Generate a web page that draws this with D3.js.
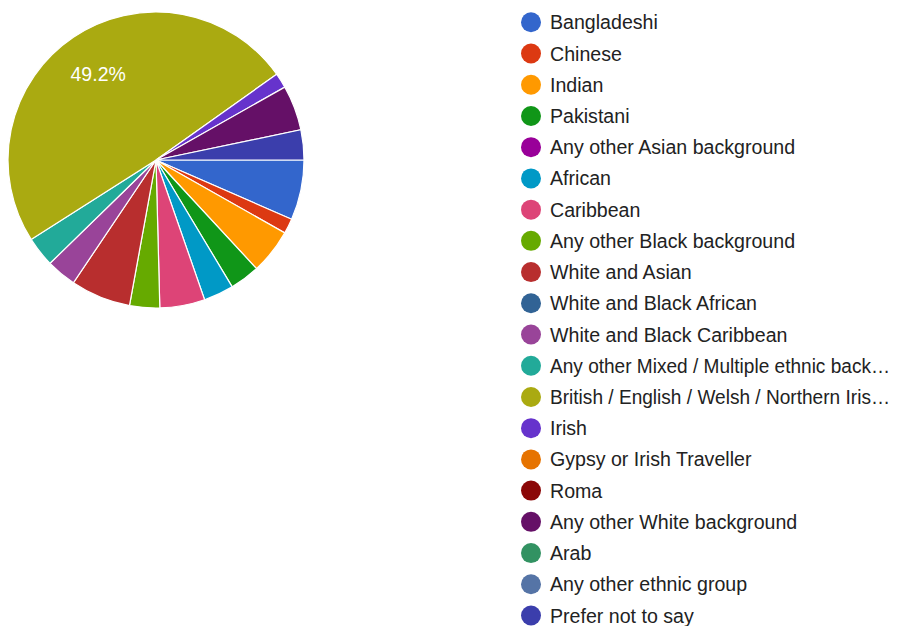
<!DOCTYPE html>
<html><head><meta charset="utf-8">
<script src="https://cdn.jsdelivr.net/npm/d3@7/dist/d3.min.js"></script>
<style>body{margin:0;background:#fff}svg{display:block}</style>
</head><body>
<svg id="c" width="897" height="626"></svg>
<script>
const categories = ["Bangladeshi","Chinese","Indian","Pakistani","Any other Asian background","African","Caribbean","Any other Black background","White and Asian","White and Black African","White and Black Caribbean","Any other Mixed / Multiple ethnic back…","British / English / Welsh / Northern Iris…","Irish","Gypsy or Irish Traveller","Roma","Any other White background","Arab","Any other ethnic group","Prefer not to say"];
const counts = [4,1,3,2,0,2,3,2,4,0,2,2,30,1,0,0,3,0,0,2];
const colors = ["#3366cc","#dc3912","#ff9900","#109618","#990099","#0099c6","#dd4477","#66aa00","#b82e2e","#316395","#994499","#22aa99","#aaaa11","#6633cc","#e67300","#8b0707","#651067","#329262","#5574a6","#3b3eac"];

const FONT = "'Liberation Sans', Arial, sans-serif";
const svg = d3.select("#c");
const cx = 156, cy = 160, R = 148;
const total = d3.sum(counts);
const data = categories.map((c,i)=>({name:c, value:counts[i], color:colors[i]}));
const pie = d3.pie().sort(null).value(d=>d.value).startAngle(Math.PI/2).endAngle(Math.PI/2+2*Math.PI);
const arcs = pie(data);
const arc = d3.arc().innerRadius(0).outerRadius(R);
const g = svg.append("g").attr("transform",`translate(${cx},${cy})`);
g.selectAll("path").data(arcs.filter(a=>a.data.value>0)).join("path")
  .attr("d",arc).attr("fill",d=>d.data.color).attr("stroke","#fff").attr("stroke-width",1.2);
const fmt = d3.format(".1%");
g.selectAll("text.pl").data(arcs.filter(a=>a.data.value/total>0.1)).join("text")
  .attr("class","pl")
  .attr("transform",d=>{const m=(d.startAngle+d.endAngle)/2;return `translate(${Math.sin(m)*R*0.7},${-Math.cos(m)*R*0.7})`;})
  .attr("text-anchor","middle").attr("dy","0.36em")
  .attr("font-family",FONT).attr("font-size","19.5px").attr("fill","#fff")
  .text(d=>fmt(d.data.value/total));

// legend
const ly = d3.scaleLinear().domain([0,categories.length-1]).range([22.3,615.5]);
const lg = svg.append("g");
const rows = lg.selectAll("g").data(data).join("g").attr("transform",(d,i)=>`translate(0,${ly(i)})`);
rows.append("circle").attr("cx",531).attr("cy",0).attr("r",10).attr("fill",d=>d.color);
const maxW = 890 - 550;
rows.append("text").attr("x",550).attr("y",0).attr("dy","0.36em")
  .attr("font-family",FONT).attr("font-size","19.6px").attr("fill","#222")
  .text(d=>d.name)
  .each(function(){
    if(this.getComputedTextLength()>maxW){
      d3.select(this).attr("textLength",maxW).attr("lengthAdjust","spacingAndGlyphs");
    }
  });
</script>
</body></html>
